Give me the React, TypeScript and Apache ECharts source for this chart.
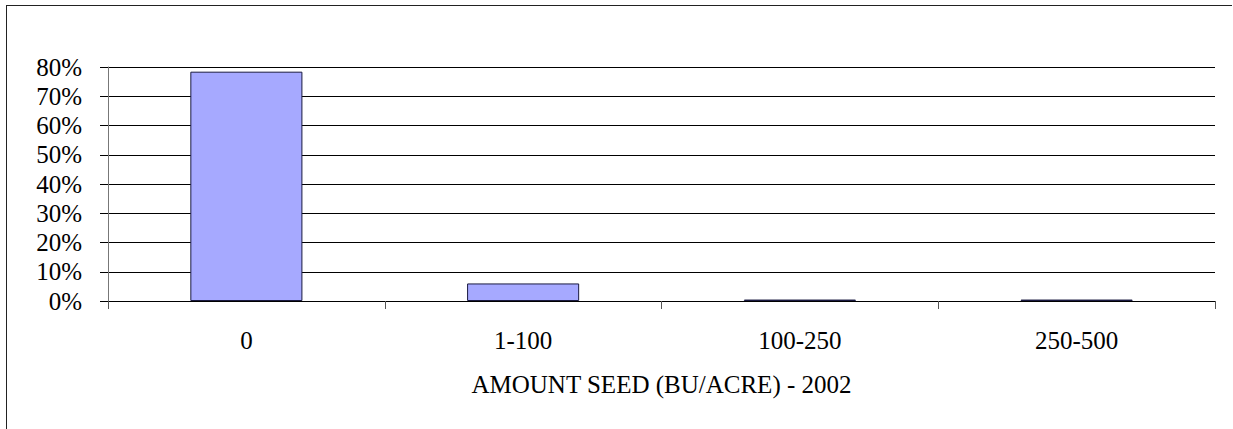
import React, { useEffect, useRef } from "react";
import * as echarts from "echarts";

const categories = ["0", "1-100", "100-250", "250-500"];
const values = [78.4, 6, 0.5, 0.5];
const yTicks = [0, 10, 20, 30, 40, 50, 60, 70, 80];
const xAxisTitle = "AMOUNT SEED (BU/ACRE) - 2002";

export default function App() {
  const ref = useRef<HTMLDivElement>(null);
  useEffect(() => {
    document.body.style.margin = "0";
    document.body.style.overflow = "hidden";
    if (!ref.current) return;
    const chart = echarts.init(ref.current, undefined, { renderer: "svg" });
    const font = "Liberation Serif";
    chart.setOption({
      animation: false,
      backgroundColor: "transparent",
      textStyle: { fontFamily: font },
      grid: { left: 108, right: 18, top: 67, bottom: 128, containLabel: false },
      xAxis: {
        type: "category",
        data: categories,
        boundaryGap: true,
        name: xAxisTitle,
        nameLocation: "middle",
        nameGap: 71,
        nameTextStyle: { fontFamily: font, fontSize: 25, color: "#000" },
        axisLine: { show: true, lineStyle: { color: "#000", width: 1 } },
        axisTick: { show: true, length: 8, lineStyle: { color: "#555" } },
        axisLabel: { fontFamily: font, fontSize: 25, color: "#000", margin: 27 },
        splitLine: { show: false },
      },
      yAxis: {
        type: "value",
        min: yTicks[0],
        max: yTicks[yTicks.length - 1],
        interval: 10,
        axisLine: { show: true, lineStyle: { color: "#777", width: 1 } },
        axisTick: { show: true, length: 8, lineStyle: { color: "#000" } },
        axisLabel: {
          fontFamily: font,
          fontSize: 25,
          color: "#000",
          margin: 26,
          formatter: "{value}%",
        },
        splitLine: { show: true, lineStyle: { color: "#000", width: 1 } },
      },
      series: [
        {
          type: "bar",
          data: values,
          barWidth: "40.5%",
          itemStyle: { color: "#a6a9ff", borderColor: "#1a1a40", borderWidth: 1 },
        },
      ],
    });
    return () => chart.dispose();
  }, []);
  return (
    <div
      style={{
        position: "absolute",
        left: 0,
        top: 0,
        width: 1233,
        height: 429,
        overflow: "hidden",
        background: "#fff",
      }}
    >
      <div
        style={{
          position: "absolute",
          left: 6,
          top: 5,
          width: 1226,
          height: 600,
          borderLeft: "1.6px solid #222",
          borderTop: "1.6px solid #222",
          boxSizing: "border-box",
        }}
      />
      <div
        ref={ref}
        style={{ position: "absolute", left: 0, top: 0, width: 1233, height: 429 }}
      />
    </div>
  );
}
